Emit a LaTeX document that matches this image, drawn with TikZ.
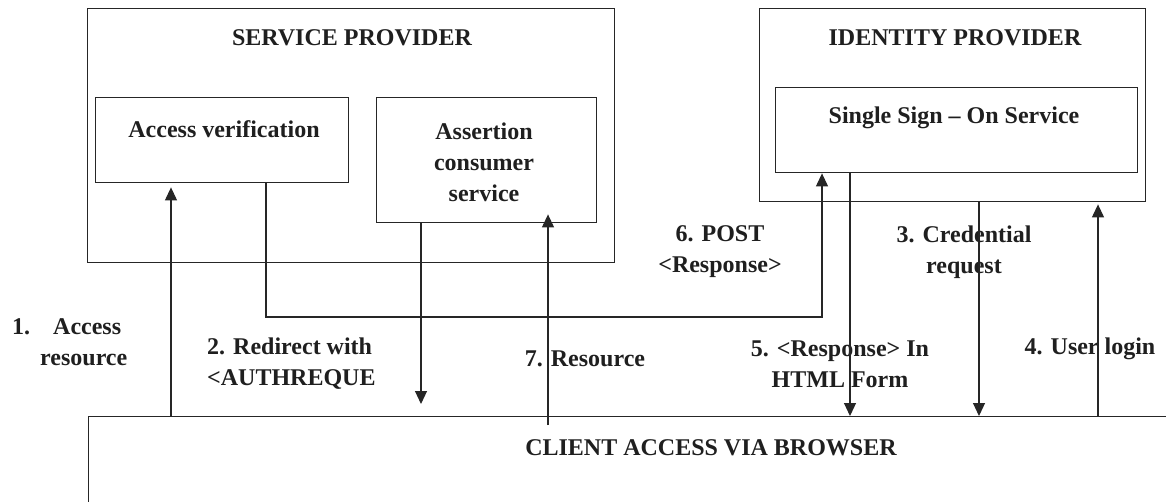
\documentclass[tikz,border=0pt]{standalone}
\usepackage{fontspec}
\setmainfont{Liberation Serif}
\usetikzlibrary{arrows.meta,calc}
\begin{document}
\begin{tikzpicture}[x=1pt,y=-1pt,
  box/.style={draw=black!85, line width=1.4pt, rectangle, inner sep=0pt, anchor=north west},
  lbl/.style={font=\fontsize{24}{31}\selectfont\bfseries, inner sep=0pt, text=black!88},
  conn/.style={draw=black!85, line width=1.1pt},
  arr/.style={conn, -{Triangle[width=12pt,length=13pt]}}]
\clip (0,0) rectangle (1166,501);
\fill[white] (0,0) rectangle (1166,501);
% boxes
\node[box, minimum width=527pt, minimum height=254pt] (sp) at (87,8) {};
\node[box, minimum width=253pt, minimum height=85pt] (av) at (95,97) {};
\node[box, minimum width=220pt, minimum height=125pt] (acs) at (376,97) {};
\node[box, minimum width=386pt, minimum height=193pt] (idp) at (759,8) {};
\node[box, minimum width=362pt, minimum height=85pt] (sso) at (775,87) {};
\node[box, minimum width=1100pt, minimum height=120pt] (client) at (88,416) {};
% texts
\node[lbl] (tsp) at (352,38) {SERVICE PROVIDER};
\node[lbl] (tav) at (224,129) {Access verification};
\node[lbl, align=center] (tacs) at (484,162) {Assertion\\consumer\\service};
\node[lbl] (tidp) at (955,38) {IDENTITY PROVIDER};
\node[lbl] (tsso) at (954,118) {Single Sign – On Service};
\node[lbl, align=center] (l6) at (720,252) {6. POST\\<Response>};
\node[lbl, align=center] (l3) at (964,252) {3. Credential\\request};
\node[lbl, align=left, anchor=west] (l1) at (12,342) {1.\hspace{23pt}Access\\\hspace*{28pt}resource};
\node[lbl, align=left, anchor=west] (l2) at (207,364) {2. Redirect with\\<AUTHREQUE};
\node[lbl] (l7) at (585,359) {7. Resource};
\node[lbl, align=center] (l5) at (840,364) {5. <Response> In\\HTML Form};
\node[lbl] (l4) at (1090,349) {4. User login};
\node[lbl] (tcl) at (711,448) {CLIENT ACCESS VIA BROWSER};
% connector x positions
\coordinate (x1) at (171,0);
\coordinate (x2) at (266,0);
\coordinate (x3) at (421,0);
\coordinate (x7) at (548,0);
\coordinate (x6) at (822,0);
\coordinate (x5) at (850,0);
\coordinate (x3b) at (979,0);
\coordinate (x4) at (1098,0);
\coordinate (h) at (0,317);
\coordinate (e2) at (421,404);
\coordinate (s7) at (548,425);
% connectors
\draw[arr, shorten >=4pt] (x1 |- client.north) -- (x1 |- av.south);
\draw[arr] (x2 |- av.south) -- (x2 |- h) -- (x6 |- h) -- (x6 |- sso.south);
\draw[arr] (x3 |- acs.south) -- (e2);
\draw[arr, shorten >=-9pt] (s7) -- (x7 |- acs.south);
\draw[arr] (x5 |- sso.south) -- (x5 |- client.north);
\draw[arr] (x3b |- idp.south) -- (x3b |- client.north);
\draw[arr, shorten >=2pt] (x4 |- client.north) -- (x4 |- idp.south);
\end{tikzpicture}
\end{document}
